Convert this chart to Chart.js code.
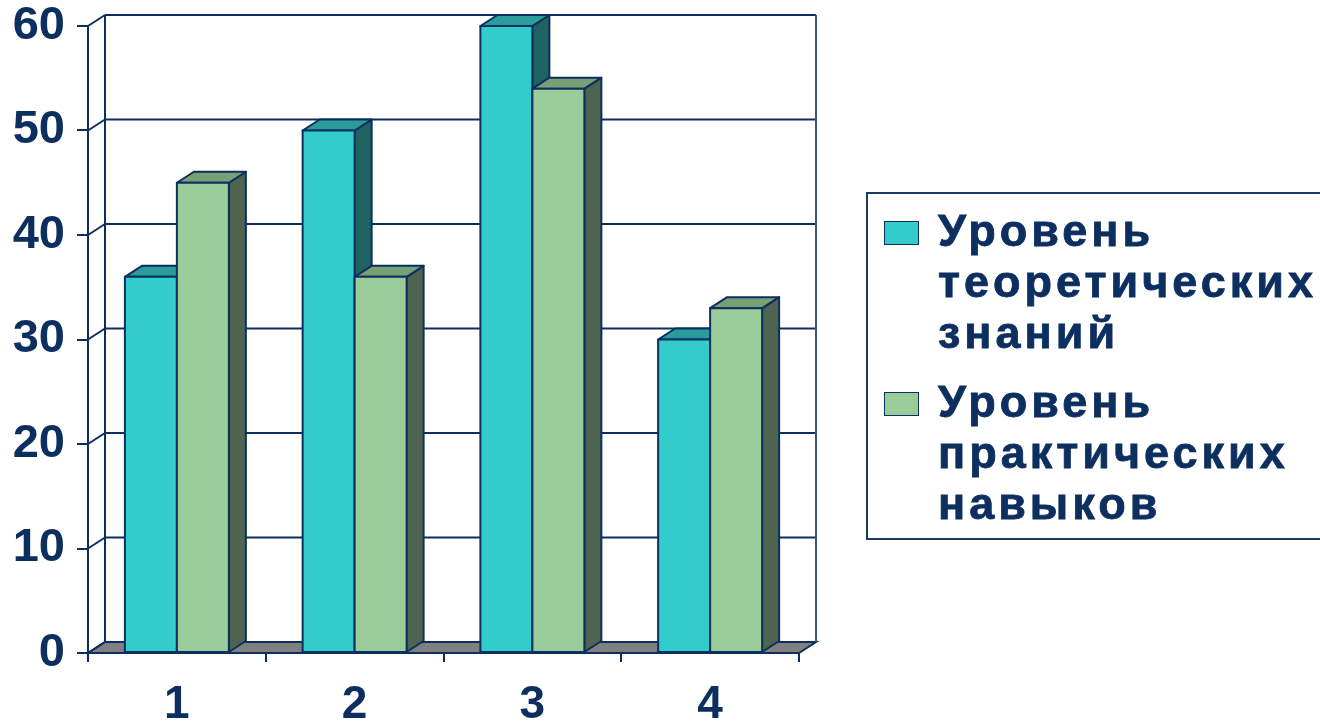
<!DOCTYPE html>
<html>
<head>
<meta charset="utf-8">
<script src="https://cdn.jsdelivr.net/npm/chart.js@4.4.1/dist/chart.umd.min.js"></script>
<style>
  html, body { margin: 0; padding: 0; background: #fff; }
  #wrap { position: relative; width: 1320px; height: 724px; overflow: hidden; }
  #myChart { position: absolute; left: 0; top: 0; }
  #legend {
    position: absolute; left: 866px; top: 192px; width: 480px; height: 348px;
    border: 2px solid #1c3b60; box-sizing: border-box; padding: 11px 0 0 16px;
  }
  .item { display: flex; align-items: flex-start; margin-bottom: 18px; }
  .swatch { width: 33px; height: 22px; border: 1.5px solid #0e2f5f; margin-top: 16px; margin-right: 19px; flex: none; }
  .text {
    width: 400px; font: bold 45px "Liberation Sans", Arial, sans-serif;
    letter-spacing: 4px; line-height: 51px; color: #0d2f60;
    -webkit-text-stroke: 0.8px #0d2f60;
  }
</style>
</head>
<body>
<div id="wrap">
  <canvas id="myChart" width="1320" height="724"></canvas>
  <div id="legend"></div>
</div>
<script>
    var categories = ['1', '2', '3', '4'];
    var seriesNames = ['Уровень теоретических знаний', 'Уровень практических навыков'];
    var theoryValues = [36, 50, 60, 30];
    var practiceValues = [45, 36, 54, 33];
    var yTicks = [0, 10, 20, 30, 40, 50, 60];

    var navy = '#0d2f60';
    var depthX = 17, depthY = -11;
    // front, top, side colours of each series
    var faces = [
      ['#33cccc', '#2a9c9c', '#1e6262'],
      ['#99cc99', '#76a076', '#4e6450']
    ];

    function poly(c, pts, fill) {
      c.beginPath();
      c.moveTo(pts[0][0], pts[0][1]);
      for (var i = 1; i < pts.length; i++) c.lineTo(pts[i][0], pts[i][1]);
      c.closePath();
      if (fill) { c.fillStyle = fill; c.fill(); }
      c.stroke();
    }
    function line(c, x1, y1, x2, y2) {
      c.beginPath(); c.moveTo(x1, y1); c.lineTo(x2, y2); c.stroke();
    }

    var box3d = {
      id: 'box3d',
      beforeDatasetsDraw: function(chart) {
        var c = chart.ctx, a = chart.chartArea, ys = chart.scales.y;
        c.save();
        c.strokeStyle = navy; c.lineWidth = 2;
        // floor
        poly(c, [[a.left, a.bottom], [a.right, a.bottom], [a.right + depthX, a.bottom + depthY], [a.left + depthX, a.bottom + depthY]], '#808080');
        // back wall grid + side wall diagonals
        ys.ticks.forEach(function(t) {
          var py = ys.getPixelForValue(t.value);
          line(c, a.left, py, a.left + depthX, py + depthY);
          line(c, a.left + depthX, py + depthY, a.right + depthX, py + depthY);
        });
        line(c, a.left + depthX, a.top + depthY, a.left + depthX, a.bottom + depthY);
        c.strokeStyle = '#3a5575';
        line(c, a.right + depthX, a.top + depthY, a.right + depthX, a.bottom + depthY);
        c.restore();
      },
      afterDatasetsDraw: function(chart) {
        var c = chart.ctx;
        c.save();
        c.strokeStyle = navy; c.lineWidth = 2; c.lineJoin = 'round';
        for (var i = 0; i < categories.length; i++) {
          for (var d = 0; d < chart.data.datasets.length; d++) {
            var bar = chart.getDatasetMeta(d).data[i];
            var l = bar.x - bar.width / 2, r = bar.x + bar.width / 2, t = bar.y, b = bar.base;
            poly(c, [[r, t], [r + depthX, t + depthY], [r + depthX, b + depthY], [r, b]], faces[d][2]);
            poly(c, [[l, t], [r, t], [r + depthX, t + depthY], [l + depthX, t + depthY]], faces[d][1]);
            poly(c, [[l, t], [r, t], [r, b], [l, b]], faces[d][0]);
          }
        }
        c.restore();
      }
    };

    var ctx = document.getElementById('myChart').getContext('2d');
    var chart = new Chart(ctx, {
        type: 'bar',
        data: {
            labels: categories,
            datasets: [{
                label: seriesNames[0],
                data: theoryValues,
                backgroundColor: faces[0][0],
                borderColor: navy,
                borderWidth: 2
            }, {
                label: seriesNames[1],
                data: practiceValues,
                backgroundColor: faces[1][0],
                borderColor: navy,
                borderWidth: 2
            }]
        },
        options: {
            responsive: false,
            animation: false,
            layout: { padding: { left: 0, right: 521, top: 26, bottom: 0 } },
            plugins: { legend: { display: false }, tooltip: { enabled: false } },
            datasets: { bar: { categoryPercentage: 0.585, barPercentage: 1 } },
            scales: {
                x: {
                    afterFit: function(s) { s.height = 71; s.paddingLeft = 0; s.paddingRight = 0; },
                    grid: { offset: true, drawOnChartArea: false, drawTicks: true, tickLength: 9, color: navy, lineWidth: 2 },
                    border: { display: true, color: navy, width: 2 },
                    ticks: { color: navy, padding: 16, font: { family: 'Liberation Sans', size: 46, weight: 'bold' } }
                },
                y: {
                    min: yTicks[0],
                    max: yTicks[yTicks.length - 1],
                    afterFit: function(s) { s.width = 88; s.paddingTop = 0; s.paddingBottom = 0; },
                    afterBuildTicks: function(s) { s.ticks = yTicks.map(function(v) { return { value: v }; }); },
                    grid: { drawOnChartArea: false, drawTicks: true, tickLength: 11, color: navy, lineWidth: 2 },
                    border: { display: true, color: navy, width: 2 },
                    ticks: { color: navy, padding: 12, font: { family: 'Liberation Sans', size: 47, weight: 'bold' } }
                }
            }
        },
        plugins: [box3d]
    });

    // html legend built from the datasets
    var legend = document.getElementById('legend');
    chart.data.datasets.forEach(function(ds) {
        var item = document.createElement('div');
        item.className = 'item';
        var sw = document.createElement('div');
        sw.className = 'swatch';
        sw.style.background = ds.backgroundColor;
        var tx = document.createElement('div');
        tx.className = 'text';
        tx.textContent = ds.label;
        item.appendChild(sw);
        item.appendChild(tx);
        legend.appendChild(item);
    });
</script>
</body>
</html>
